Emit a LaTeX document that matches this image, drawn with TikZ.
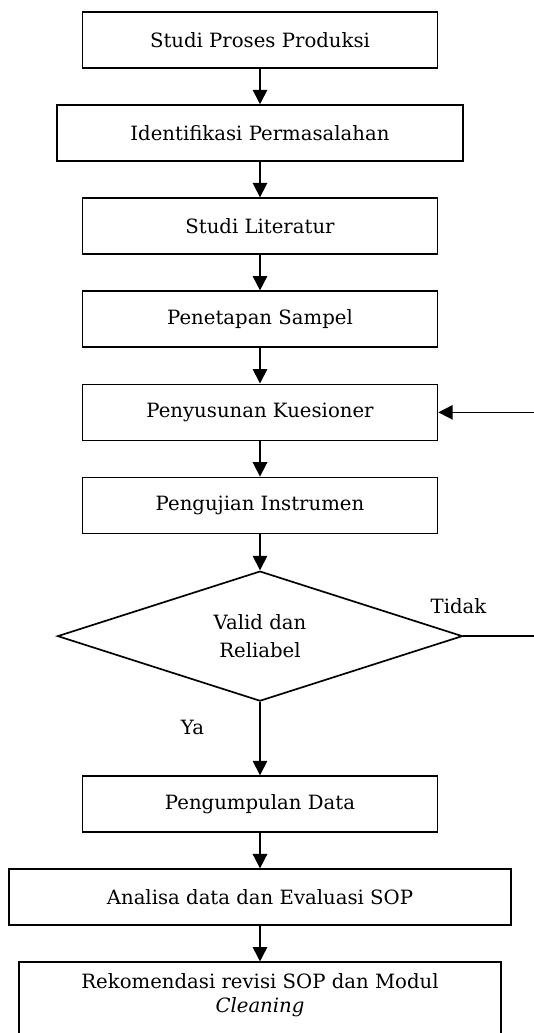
\documentclass[tikz,border=0pt]{standalone}
\usepackage{fontspec}
\setmainfont{DejaVu Serif}
\usetikzlibrary{arrows.meta, positioning, shapes.geometric}

\begin{document}
\begin{tikzpicture}[
    >={Triangle[length=0.36cm, width=0.36cm]},
    node distance=0.885cm,
    every node/.style={font=\fontsize{14}{17}\selectfont},
    stepbox/.style={draw, line width=1.2pt, minimum height=1.4cm,
        minimum width=8.875cm, align=center, inner sep=2pt},
    decision/.style={draw, diamond, aspect=3.1, line width=1.2pt, minimum width=10.125cm,
        minimum height=3.25cm, align=center, inner sep=0pt},
    arw/.style={->, line width=1.2pt},
    lbl/.style={inner sep=0pt},
]

\useasboundingbox (0,0) rectangle (13.325,-25.825);

% === Main column ===
\node[stepbox] (studi) at (6.5,-1.0) {Studi Proses Produksi};
\node[stepbox, below=of studi, minimum width=10.15cm] (identifikasi) {Identifikasi Permasalahan};
\node[stepbox, below=of identifikasi] (literatur) {Studi Literatur};
\node[stepbox, below=of literatur] (sampel) {Penetapan Sampel};
\node[stepbox, below=of sampel] (kuesioner) {Penyusunan Kuesioner};
\node[stepbox, below=of kuesioner] (instrumen) {Pengujian Instrumen};

% === Decision ===
\node[decision, below=0.9cm of instrumen] (valid) {Valid dan\\[3.5pt]Reliabel};

\node[stepbox, below=1.833cm of valid] (kumpul) {Pengumpulan Data};
\node[stepbox, below=of kumpul, minimum width=12.55cm] (analisa) {Analisa data dan Evaluasi SOP};
\node[stepbox, below=of analisa, minimum width=12.05cm, minimum height=1.85cm,
      text depth=0.3cm] (rekomendasi)
    {Rekomendasi revisi SOP dan Modul\\\textit{Cleaning}};

% Arrows down the column
\draw[arw] (studi) -- (identifikasi);
\draw[arw] (identifikasi) -- (literatur);
\draw[arw] (literatur) -- (sampel);
\draw[arw] (sampel) -- (kuesioner);
\draw[arw] (kuesioner) -- (instrumen);
\draw[arw] (instrumen) -- (valid);
\draw[arw] (valid.south) -- (kumpul.north)
    node[lbl, pos=0.35, left=1.375cm] (ya) {Ya};
\draw[arw] (kumpul) -- (analisa);
\draw[arw] (analisa) -- (rekomendasi);

% Loop-back arrow (runs off the right edge)
\coordinate (rt) at (13.55,0);
\draw[arw] (valid.east) -- (valid.east -| rt) |- (kuesioner.east);
\node[lbl, above=0.55cm of valid.east, xshift=-0.12cm] (tidak) {Tidak};

\end{tikzpicture}
\end{document}
